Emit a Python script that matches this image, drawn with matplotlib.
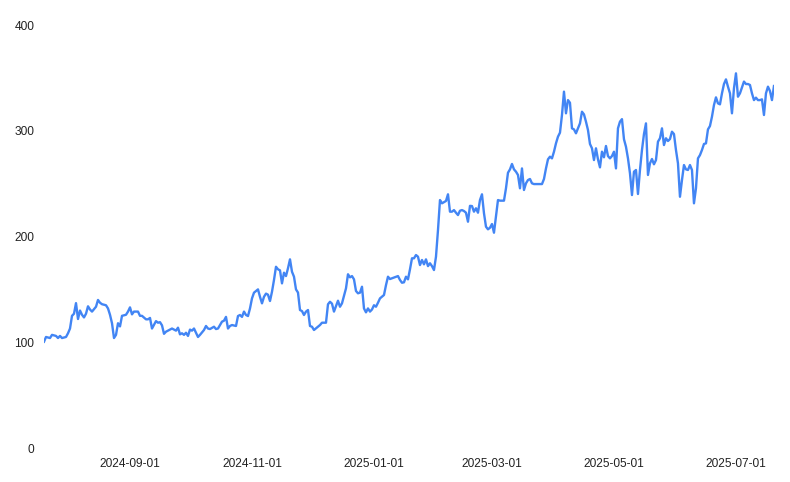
import matplotlib.pyplot as plt
import matplotlib.dates as mdates
import pandas as pd

plt.rcParams['font.family'] = ['Liberation Sans', 'DejaVu Sans']

dates = [
    '2024-07-20', '2024-07-21', '2024-07-23', '2024-07-24', '2024-07-26', '2024-07-27',
    '2024-07-28', '2024-07-29', '2024-07-31', '2024-08-01', '2024-08-02', '2024-08-03',
    '2024-08-04', '2024-08-05', '2024-08-06', '2024-08-07', '2024-08-08', '2024-08-09',
    '2024-08-10', '2024-08-11', '2024-08-12', '2024-08-13', '2024-08-15', '2024-08-16',
    '2024-08-17', '2024-08-18', '2024-08-20', '2024-08-21', '2024-08-22', '2024-08-23',
    '2024-08-24', '2024-08-25', '2024-08-26', '2024-08-27', '2024-08-28', '2024-08-30',
    '2024-08-31', '2024-09-01', '2024-09-02', '2024-09-03', '2024-09-05', '2024-09-06',
    '2024-09-07', '2024-09-09', '2024-09-10', '2024-09-11', '2024-09-12', '2024-09-14',
    '2024-09-15', '2024-09-16', '2024-09-17', '2024-09-18', '2024-09-19', '2024-09-21',
    '2024-09-22', '2024-09-24', '2024-09-25', '2024-09-26', '2024-09-27', '2024-09-28',
    '2024-09-29', '2024-09-30', '2024-10-01', '2024-10-02', '2024-10-03', '2024-10-04',
    '2024-10-05', '2024-10-06', '2024-10-08', '2024-10-09', '2024-10-10', '2024-10-11',
    '2024-10-13', '2024-10-14', '2024-10-15', '2024-10-17', '2024-10-18', '2024-10-19',
    '2024-10-20', '2024-10-21', '2024-10-22', '2024-10-24', '2024-10-25', '2024-10-26',
    '2024-10-27', '2024-10-28', '2024-10-29', '2024-10-30', '2024-10-31', '2024-11-01',
    '2024-11-02', '2024-11-04', '2024-11-05', '2024-11-06', '2024-11-07', '2024-11-08',
    '2024-11-09', '2024-11-10', '2024-11-11', '2024-11-12', '2024-11-13', '2024-11-14',
    '2024-11-15', '2024-11-16', '2024-11-17', '2024-11-18', '2024-11-19', '2024-11-20',
    '2024-11-21', '2024-11-22', '2024-11-23', '2024-11-24', '2024-11-25', '2024-11-26',
    '2024-11-27', '2024-11-28', '2024-11-29', '2024-11-30', '2024-12-01', '2024-12-02',
    '2024-12-04', '2024-12-05', '2024-12-06', '2024-12-08', '2024-12-09', '2024-12-10',
    '2024-12-11', '2024-12-12', '2024-12-13', '2024-12-14', '2024-12-15', '2024-12-16',
    '2024-12-18', '2024-12-19', '2024-12-20', '2024-12-21', '2024-12-22', '2024-12-23',
    '2024-12-24', '2024-12-25', '2024-12-26', '2024-12-27', '2024-12-28', '2024-12-29',
    '2024-12-30', '2024-12-31', '2025-01-01', '2025-01-02', '2025-01-03', '2025-01-04',
    '2025-01-06', '2025-01-07', '2025-01-08', '2025-01-09', '2025-01-10', '2025-01-12',
    '2025-01-13', '2025-01-14', '2025-01-15', '2025-01-16', '2025-01-17', '2025-01-18',
    '2025-01-19', '2025-01-20', '2025-01-21', '2025-01-22', '2025-01-23', '2025-01-24',
    '2025-01-25', '2025-01-26', '2025-01-27', '2025-01-28', '2025-01-29', '2025-01-30',
    '2025-01-31', '2025-02-01', '2025-02-02', '2025-02-03', '2025-02-04', '2025-02-06',
    '2025-02-07', '2025-02-08', '2025-02-09', '2025-02-10', '2025-02-11', '2025-02-12',
    '2025-02-13', '2025-02-14', '2025-02-15', '2025-02-16', '2025-02-17', '2025-02-18',
    '2025-02-19', '2025-02-20', '2025-02-21', '2025-02-22', '2025-02-23', '2025-02-24',
    '2025-02-25', '2025-02-26', '2025-02-27', '2025-02-28', '2025-03-01', '2025-03-02',
    '2025-03-03', '2025-03-04', '2025-03-05', '2025-03-07', '2025-03-08', '2025-03-09',
    '2025-03-10', '2025-03-11', '2025-03-12', '2025-03-13', '2025-03-14', '2025-03-15',
    '2025-03-16', '2025-03-17', '2025-03-18', '2025-03-19', '2025-03-20', '2025-03-21',
    '2025-03-22', '2025-03-24', '2025-03-26', '2025-03-27', '2025-03-28', '2025-03-29',
    '2025-03-30', '2025-03-31', '2025-04-01', '2025-04-02', '2025-04-03', '2025-04-04',
    '2025-04-05', '2025-04-06', '2025-04-07', '2025-04-08', '2025-04-09', '2025-04-10',
    '2025-04-11', '2025-04-12', '2025-04-13', '2025-04-14', '2025-04-15', '2025-04-16',
    '2025-04-17', '2025-04-18', '2025-04-19', '2025-04-20', '2025-04-21', '2025-04-22',
    '2025-04-23', '2025-04-24', '2025-04-25', '2025-04-26', '2025-04-27', '2025-04-28',
    '2025-04-29', '2025-04-30', '2025-05-01', '2025-05-02', '2025-05-03', '2025-05-04',
    '2025-05-05', '2025-05-06', '2025-05-07', '2025-05-08', '2025-05-09', '2025-05-10',
    '2025-05-11', '2025-05-12', '2025-05-13', '2025-05-14', '2025-05-15', '2025-05-16',
    '2025-05-17', '2025-05-18', '2025-05-19', '2025-05-20', '2025-05-21', '2025-05-22',
    '2025-05-23', '2025-05-24', '2025-05-25', '2025-05-26', '2025-05-27', '2025-05-28',
    '2025-05-29', '2025-05-30', '2025-05-31', '2025-06-01', '2025-06-02', '2025-06-03',
    '2025-06-04', '2025-06-05', '2025-06-06', '2025-06-07', '2025-06-08', '2025-06-09',
    '2025-06-10', '2025-06-11', '2025-06-12', '2025-06-13', '2025-06-14', '2025-06-15',
    '2025-06-16', '2025-06-17', '2025-06-18', '2025-06-19', '2025-06-20', '2025-06-21',
    '2025-06-22', '2025-06-23', '2025-06-24', '2025-06-25', '2025-06-26', '2025-06-27',
    '2025-06-28', '2025-06-29', '2025-06-30', '2025-07-01', '2025-07-02', '2025-07-03',
    '2025-07-05', '2025-07-06', '2025-07-07', '2025-07-08', '2025-07-09', '2025-07-10',
    '2025-07-11', '2025-07-12', '2025-07-13', '2025-07-14', '2025-07-15', '2025-07-16',
    '2025-07-17', '2025-07-18', '2025-07-19', '2025-07-20',
]

values = [
    100.5, 105, 104, 107, 106, 104,
    106, 104, 105, 108.5, 113, 125,
    127, 137, 122, 130, 126, 123.5,
    127, 134, 131, 129, 133.6, 140,
    137.4, 136, 135, 132, 126, 118,
    104, 107, 118, 115, 125, 126,
    129, 133, 126.4, 129, 129, 125,
    125, 121.7, 121.7, 123, 113, 120,
    118.5, 119, 116, 108, 110, 112,
    113, 111, 113.8, 107.5, 108.5, 107,
    109, 106, 112, 111, 113, 109,
    105, 107, 111.6, 115.4, 113, 112.5,
    114.7, 112.5, 113, 119.5, 120.4, 124,
    113, 115.4, 116.3, 115.4, 124.8, 125.8,
    124, 129, 125.8, 124.8, 132, 141.5,
    146.9, 150, 143, 136.8, 143, 146,
    145, 139, 147.8, 158.9, 171.4, 169,
    168, 155.7, 165.8, 162.6, 170, 178.4,
    166.7, 162, 150, 147, 130.5, 129.5,
    125.8, 129, 130.5, 115.4, 114.7, 111.6,
    114.7, 116.3, 118.5, 118.5, 135.9, 138.3,
    136.5, 129, 134.3, 139.3, 133.6, 136.8,
    151, 164.3, 161.4, 162.6, 159.5, 148.5,
    146.3, 146.9, 152.5, 132, 128.3, 132,
    129, 131, 135, 133.6, 137.4, 141.5,
    144.7, 154, 162, 159.8, 160.5, 162,
    162.6, 158.9, 156.3, 156.7, 162, 159.5,
    169, 179.4, 179.4, 182.5, 180.9, 173,
    177.8, 173.7, 178.4, 172, 174.7, 172,
    168.3, 180.9, 206, 234.5, 231.4, 233.6,
    239.9, 223.5, 223.5, 225, 222.5, 220.3,
    224.4, 225, 224.1, 222.5, 214, 229,
    228.8, 223.5, 226.7, 222.5, 234.5, 239.9,
    222, 209.3, 206.8, 208.3, 211.8, 203.6,
    218.7, 234.5, 233.9, 233.9, 245.6, 260.3,
    263.5, 268.6, 263.5, 261.3, 258.2, 245.6,
    264.4, 244, 250.3, 253.4, 254.4, 250.3,
    249.6, 249.6, 249.6, 254.4, 264.4, 273,
    275.5, 273.9, 280.2, 288.1, 294.4, 298.2,
    314.9, 337, 316.5, 329, 326.5, 302.3,
    301.3, 297.6, 302.3, 307, 318, 315.5,
    308.6, 300.7, 287.5, 283.4, 272.3, 283.4,
    273, 265.4, 280.2, 274.9, 285.6, 276.1,
    273.9, 276.1, 280.2, 264.4, 302.3, 308.6,
    311, 292, 284.9, 273.9, 259.8, 239.2,
    261.3, 262.9, 240.2, 262.9, 281.8, 296.9,
    307, 258.2, 269.2, 273.3, 268.3, 272.3,
    289.7, 292.9, 302.3, 286.5, 292.9, 290.3,
    292.2, 299.1, 296.9, 281.8, 269.2, 237.6,
    253.4, 267.6, 263.5, 262.9, 267.6, 262.9,
    231.4, 245.6, 273.9, 277, 281.8, 287.5,
    288.1, 301.3, 304.5, 313.3, 324.3, 331.6,
    325.9, 325, 335.4, 344.2, 348.6, 341.7,
    335.4, 316.5, 340.1, 354.3, 332.2, 335.4,
    346.5, 344.2, 344.2, 343.3, 335.4, 329,
    331.3, 329, 329, 329.7, 314.9, 335.4,
    341.7, 337.6, 329, 342.3,
]

x_ticks = ['2024-09-01', '2024-11-01', '2025-01-01', '2025-03-01', '2025-05-01', '2025-07-01']
y_ticks = [0, 100, 200, 300, 400]

x = pd.to_datetime(dates)

fig = plt.figure(figsize=(7.9, 4.82), dpi=100)
ax = fig.add_axes([0.0557, 0.0705, 0.924, 0.8776])
ax.plot(x, values, color='#4285F4', linewidth=1.7, solid_joinstyle='round')

ax.set_xlim(x[0], x[-1])
ax.set_ylim(0, 400)
ax.set_yticks(y_ticks)
ax.set_xticks(pd.to_datetime(x_ticks))
ax.xaxis.set_major_formatter(mdates.DateFormatter('%Y-%m-%d'))

for s in ax.spines.values():
    s.set_visible(False)
ax.tick_params(axis='both', length=0, labelsize=8.6, colors='#222222')
ax.tick_params(axis='y', pad=7)
ax.tick_params(axis='x', pad=7)

fig.savefig('out.png', dpi=100)
